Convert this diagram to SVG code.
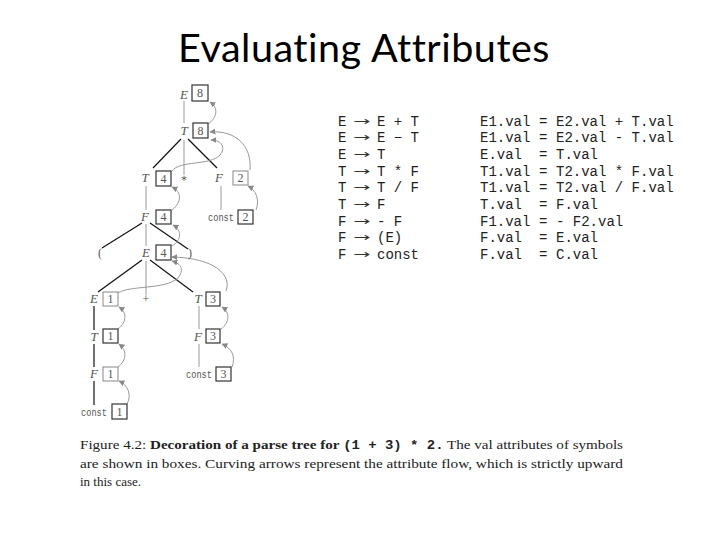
<svg xmlns="http://www.w3.org/2000/svg" width="720" height="540" viewBox="0 0 720 540">
<defs>
<marker id="ah" viewBox="0 0 10 10" refX="9" refY="5" markerWidth="6" markerHeight="6" orient="auto-start-reverse" markerUnits="userSpaceOnUse">
<path d="M0,0 L10,5 L0,10 z" fill="#888"/>
</marker>
<style>
.title{font-family:Lato,"Liberation Sans",sans-serif;font-size:39px;fill:#000;letter-spacing:0.5px;font-variant-ligatures:none}
.g{font-family:"Liberation Mono","Courier New",monospace;font-size:14px;fill:#222}
.arw{font-family:"Noto Sans","DejaVu Sans",sans-serif;font-size:12px;fill:#333}
.sym{font-family:"Liberation Serif","Times New Roman",serif;font-style:italic;font-size:13px;fill:#555;text-anchor:middle}
.tok{font-family:"Liberation Serif",serif;font-size:12px;fill:#555;text-anchor:middle}
.cst{font-family:"Liberation Mono",monospace;font-size:10px;fill:#555}
.num{font-family:"Liberation Serif",serif;font-size:12px;fill:#555;text-anchor:middle}
.box{fill:#fff;stroke:#333;stroke-width:1.2}
.boxg{fill:#fff;stroke:#888;stroke-width:1}
.eb{stroke:#111;stroke-width:1.2;fill:none}
.eg{stroke:#999;stroke-width:1;fill:none}
.ar{stroke:#999;stroke-width:1;fill:none;marker-end:url(#ah)}
.cap{font-family:"Liberation Serif","Times New Roman",serif;font-size:13px;fill:#222}
.capb{font-weight:bold}
.capm{font-family:"Liberation Mono",monospace;font-size:12px;font-weight:bold}
</style>
</defs>
<rect width="720" height="540" fill="#fff"/>
<text class="title" x="178" y="62" textLength="372" lengthAdjust="spacingAndGlyphs">Evaluating Attributes</text>

<g id="connectors">
<line class="eg" x1="184" y1="101" x2="184" y2="123"/>
<line class="eb" x1="181" y1="139" x2="153" y2="168"/>
<line class="eg" x1="184" y1="140" x2="184" y2="175"/>
<line class="eb" x1="188" y1="139" x2="217" y2="168"/>
<line class="eg" x1="146" y1="186" x2="146" y2="210"/>
<line class="eg" x1="221" y1="186" x2="221" y2="210"/>
<line class="eb" x1="142" y1="223" x2="102" y2="248"/>
<line class="eg" x1="146" y1="224" x2="146" y2="246"/>
<line class="eb" x1="150" y1="223" x2="188" y2="249"/>
<line class="eb" x1="142" y1="260" x2="98" y2="292"/>
<line class="eg" x1="146" y1="261" x2="146" y2="295"/>
<line class="eb" x1="150" y1="260" x2="193" y2="292"/>
<line class="eb" x1="94" y1="306" x2="94" y2="330"/>
<line class="eb" x1="94" y1="344" x2="94" y2="367"/>
<line class="eb" x1="94" y1="381" x2="94" y2="405"/>
<line class="eg" x1="199" y1="306" x2="199" y2="329"/>
<line class="eg" x1="199" y1="344" x2="199" y2="367"/>
<path class="ar" d="M208,124 C217,118 219,108 210,102"/>
<path class="ar" d="M172,171 C180,160 210,166 220,155 C226,148 222,140 211,140"/>
<path class="ar" d="M250,170 C252,145 235,130 210,132"/>
<path class="ar" d="M172,210 C182,202 182,192 172,187"/>
<path class="ar" d="M256,210 C260,200 256,190 248,186"/>
<path class="ar" d="M172,246 C182,240 182,230 173,225"/>
<path class="ar" d="M226,291 C232,275 215,258 172,257"/>
<path class="ar" d="M118,293 C130,285 165,290 178,278 C184,270 182,264 172,261"/>
<path class="ar" d="M118,329 C127,322 127,312 119,307"/>
<path class="ar" d="M118,367 C127,360 127,350 119,344"/>
<path class="ar" d="M127,404 C132,395 128,385 119,381"/>
<path class="ar" d="M221,329 C230,322 230,312 222,307"/>
<path class="ar" d="M232,367 C236,357 232,348 222,344"/>
</g>

<g id="n-E8"><text class="sym" x="184" y="99">E</text><rect class="box" x="192" y="85" width="16" height="16"/><text class="num" x="200" y="97">8</text></g>
<g id="n-T8"><text class="sym" x="184" y="135">T</text><rect class="box" x="193" y="123" width="15" height="15"/><text class="num" x="200.5" y="135">8</text></g>
<g id="n-T4"><text class="sym" x="145" y="182">T</text><rect class="box" x="156" y="171" width="15" height="15"/><text class="num" x="163.5" y="183">4</text></g>
<g id="n-star"><text class="tok" x="184" y="184">*</text></g>
<g id="n-F2"><text class="sym" x="219" y="182">F</text><rect class="boxg" x="233" y="171" width="15" height="14"/><text class="num" x="240.5" y="182">2</text></g>
<g id="n-F4"><text class="sym" x="145" y="221">F</text><rect class="box" x="156" y="210" width="15" height="14"/><text class="num" x="163.5" y="221">4</text></g>
<g id="n-const2"><text class="cst" x="208" y="221" textLength="26" lengthAdjust="spacingAndGlyphs">const</text><rect class="box" x="238" y="210" width="15" height="14"/><text class="num" x="245.5" y="221">2</text></g>
<g id="n-lpar"><text class="tok" x="100" y="257">(</text></g>
<g id="n-E4"><text class="sym" x="146" y="257">E</text><rect class="box" x="156" y="245" width="15" height="15"/><text class="num" x="163.5" y="257">4</text></g>
<g id="n-rpar"><text class="tok" x="190" y="257">)</text></g>
<g id="n-E1"><text class="sym" x="94" y="303">E</text><rect class="boxg" x="103" y="292" width="15" height="14"/><text class="num" x="110.5" y="303">1</text></g>
<g id="n-plus"><text class="tok" x="146" y="303">+</text></g>
<g id="n-T3"><text class="sym" x="198" y="303">T</text><rect class="box" x="206" y="292" width="14" height="14"/><text class="num" x="213" y="303">3</text></g>
<g id="n-T1"><text class="sym" x="94" y="341">T</text><rect class="box" x="103" y="329" width="15" height="14"/><text class="num" x="110.5" y="340">1</text></g>
<g id="n-F3"><text class="sym" x="198" y="341">F</text><rect class="box" x="206" y="329" width="14" height="14"/><text class="num" x="213" y="340">3</text></g>
<g id="n-F1"><text class="sym" x="94" y="378">F</text><rect class="boxg" x="103" y="367" width="15" height="14"/><text class="num" x="110.5" y="378">1</text></g>
<g id="n-const3"><text class="cst" x="186" y="378" textLength="26" lengthAdjust="spacingAndGlyphs">const</text><rect class="box" x="216" y="367" width="15" height="14"/><text class="num" x="223.5" y="378">3</text></g>
<g id="n-const1"><text class="cst" x="81" y="416" textLength="26" lengthAdjust="spacingAndGlyphs">const</text><rect class="box" x="112" y="404" width="15" height="15"/><text class="num" x="119.5" y="416">1</text></g>

<g id="grammar" class="g">
<text x="338" y="126">E</text><text class="arw" x="353" y="125" textLength="17" lengthAdjust="spacingAndGlyphs">→</text><text x="377" y="126">E + T</text>
<text x="338" y="142">E</text><text class="arw" x="353" y="141" textLength="17" lengthAdjust="spacingAndGlyphs">→</text><text x="377" y="142">E − T</text>
<text x="338" y="159">E</text><text class="arw" x="353" y="158" textLength="17" lengthAdjust="spacingAndGlyphs">→</text><text x="377" y="159">T</text>
<text x="338" y="176">T</text><text class="arw" x="353" y="175" textLength="17" lengthAdjust="spacingAndGlyphs">→</text><text x="377" y="176">T * F</text>
<text x="338" y="192">T</text><text class="arw" x="353" y="191" textLength="17" lengthAdjust="spacingAndGlyphs">→</text><text x="377" y="192">T / F</text>
<text x="338" y="209">T</text><text class="arw" x="353" y="208" textLength="17" lengthAdjust="spacingAndGlyphs">→</text><text x="377" y="209">F</text>
<text x="338" y="226">F</text><text class="arw" x="353" y="225" textLength="17" lengthAdjust="spacingAndGlyphs">→</text><text x="377" y="226">- F</text>
<text x="338" y="242">F</text><text class="arw" x="353" y="241" textLength="17" lengthAdjust="spacingAndGlyphs">→</text><text x="377" y="242">(E)</text>
<text x="338" y="259">F</text><text class="arw" x="353" y="258" textLength="17" lengthAdjust="spacingAndGlyphs">→</text><text x="377" y="259">const</text>
</g>

<g id="rules" class="g">
<text x="480" y="126">E1.val</text><text x="539" y="126">=</text><text x="556" y="126">E2.val + T.val</text>
<text x="480" y="142">E1.val</text><text x="539" y="142">=</text><text x="556" y="142">E2.val - T.val</text>
<text x="480" y="159">E.val</text><text x="539" y="159">=</text><text x="556" y="159">T.val</text>
<text x="480" y="176">T1.val</text><text x="539" y="176">=</text><text x="556" y="176">T2.val * F.val</text>
<text x="480" y="192">T1.val</text><text x="539" y="192">=</text><text x="556" y="192">T2.val / F.val</text>
<text x="480" y="209">T.val</text><text x="539" y="209">=</text><text x="556" y="209">F.val</text>
<text x="480" y="226">F1.val</text><text x="539" y="226">=</text><text x="556" y="226">- F2.val</text>
<text x="480" y="242">F.val</text><text x="539" y="242">=</text><text x="556" y="242">E.val</text>
<text x="480" y="259">F.val</text><text x="539" y="259">=</text><text x="556" y="259">C.val</text>
</g>

<g id="caption" class="cap">
<text x="80" y="449" textLength="543" lengthAdjust="spacingAndGlyphs">Figure 4.2: <tspan class="capb">Decoration of a parse tree for</tspan> <tspan class="capm">(1 + 3) * 2.</tspan> The val attributes of symbols</text>
<text x="80" y="468" textLength="543" lengthAdjust="spacingAndGlyphs">are shown in boxes. Curving arrows represent the attribute flow, which is strictly upward</text>
<text x="80" y="486">in this case.</text>
</g>
</svg>
